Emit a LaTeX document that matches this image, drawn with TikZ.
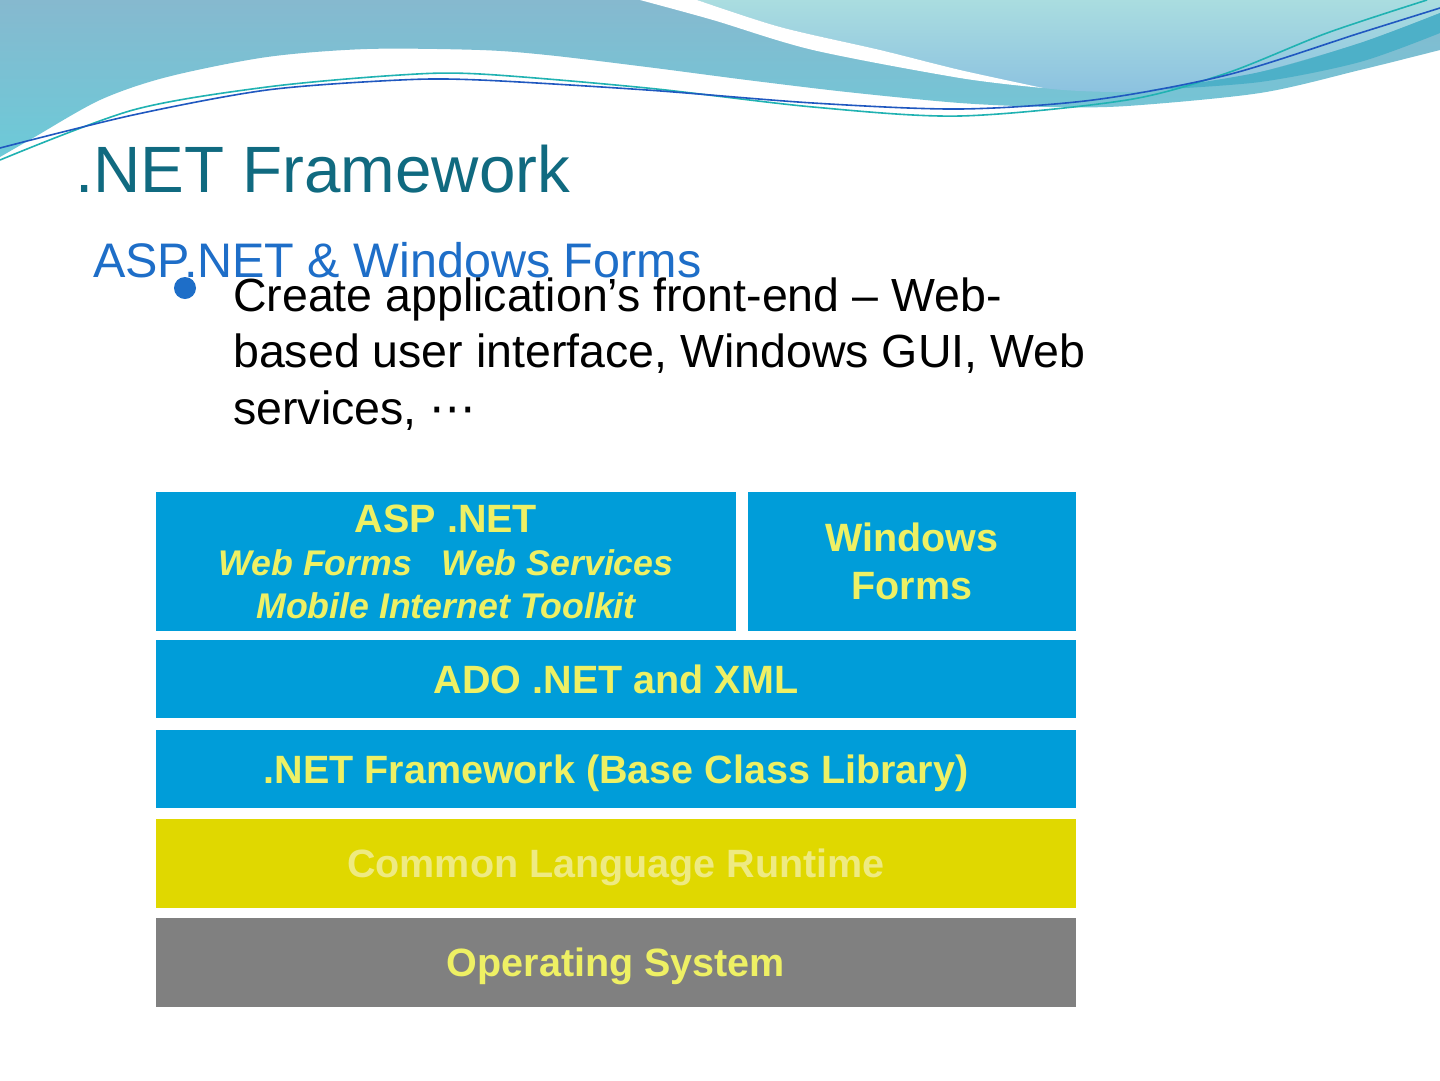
\documentclass[tikz,border=0pt]{standalone}
\usepackage{fontspec}
\setmainfont{Liberation Sans}
\newfontfamily\dotsfont{DejaVu Sans}
\usetikzlibrary{positioning}
\definecolor{title-teal}{HTML}{106A80}
\definecolor{sub-blue}{HTML}{1E6EC8}
\definecolor{box-blue}{HTML}{009DD9}
\definecolor{box-lime}{HTML}{E0D800}
\definecolor{box-gray}{HTML}{808080}
\definecolor{label-yellow}{HTML}{EEF064}
\definecolor{label-pale}{HTML}{EEEA82}
\definecolor{wave-top}{HTML}{86B9CF}
\definecolor{wave-low}{HTML}{6CCAD8}
\definecolor{wave-light}{HTML}{AADDE0}
\definecolor{wave-lightlow}{HTML}{8CC2E0}
\definecolor{wave-deep}{HTML}{4DB0C8}
\definecolor{line-teal}{HTML}{20B2B2}
\definecolor{line-blue}{HTML}{2058C0}

\begin{document}
\begin{tikzpicture}[x=1pt, y=-1pt, every node/.style={inner sep=0pt},
    layer/.style={minimum width=920pt, minimum height=78pt, align=center,
      text=label-yellow, font=\bfseries\fontsize{39.5}{48}\selectfont,
      text height=28pt, text depth=0pt}]
    \fill[white] (0,0) rectangle (1440,1080);
    \useasboundingbox (0,0) rectangle (1440,1080);
    % top waves
    \shade[top color=wave-top, bottom color=wave-low] (0,0) -- plot[smooth] coordinates
      {(0,157) (33,138) (100,100) (167,77) (267,57) (367,49) (480,50) (547,55) (647,67)
       (747,80) (847,92) (960,103) (1050,107) (1127,106) (1260,93) (1360,70) (1440,50)}
      -- (1440,0) -- cycle;
    \shade[top color=wave-light, bottom color=wave-lightlow] (697,0) -- plot[smooth] coordinates
      {(697,0) (780,27) (880,50) (960,70) (1043,88) (1127,92) (1193,86) (1260,72) (1360,43) (1440,13)}
      -- (1440,0) -- cycle;
    \fill[white] plot[smooth] coordinates {(640,0) (713,20) (813,50) (960,78) (1043,88)}
      -- plot[smooth] coordinates {(1043,88) (960,70) (880,50) (780,27) (697,0)} -- cycle;
    \fill[wave-deep] plot[smooth] coordinates {(1150,90) (1260,72) (1360,43) (1440,13)}
      -- (1440,33) -- plot[smooth] coordinates {(1440,33) (1360,62) (1260,82) (1150,90)} -- cycle;
    \draw[line-teal, line width=1.6pt] plot[smooth] coordinates
      {(0,160) (133,110) (267,87) (400,75) (480,74) (647,88) (813,107) (960,116)
       (1127,100) (1227,73) (1327,33) (1427,0)};
    \draw[line-blue, line width=1.6pt] plot[smooth] coordinates
      {(0,148) (133,115) (267,90) (400,80) (480,80) (647,90) (813,103) (960,109)
       (1093,100) (1227,75) (1360,33) (1440,8)};
    % headings
    \node[anchor=base west, text=title-teal, font=\fontsize{65.5}{70}\selectfont]
      (title) at (75,192) {.NET Framework};
    \node[anchor=base west, text=sub-blue, font=\fontsize{48.5}{52}\selectfont]
      (subtitle) at (93,277) {ASP.NET \& Windows Forms};
    \node[circle, fill=sub-blue, minimum size=22pt] (dot) at (185,288) {};
    \node[anchor=base west, align=left, font=\fontsize{46.5}{56.5}\selectfont]
      (frontend) at (233,424) {Create application’s front-end – Web-\\based user interface, Windows GUI, Web\\services, {\dotsfont ⋯}};
    % stack of layers
    \node[fill=box-blue, minimum width=580pt, minimum height=139pt, align=center,
      text=label-yellow, font=\bfseries\fontsize{35.7}{43}\selectfont]
      (asp) at (446,561.5) {{\fontsize{39.5}{44}\selectfont ASP .NET}\\
      {\itshape Web Forms\ \ \ Web Services}\\{\itshape Mobile Internet Toolkit}};
    \node[fill=box-blue, minimum width=328pt, minimum height=139pt, align=center,
      text=label-yellow, font=\bfseries\fontsize{39.5}{48}\selectfont]
      (winforms) at (912,561.5) {Windows\\Forms};
    \node[layer, fill=box-blue] (ado) at (616,679) {ADO .NET and XML};
    \node[layer, fill=box-blue] (bcl) at (616,769) {.NET Framework (Base Class Library)};
    \node[layer, fill=box-lime, text=label-pale, minimum height=89pt] (clr) at (616,863.5)
      {Common Language Runtime};
    \node[layer, fill=box-gray, minimum height=89pt] (os) at (616,962.5) {Operating System};
  \end{tikzpicture}
\end{document}
